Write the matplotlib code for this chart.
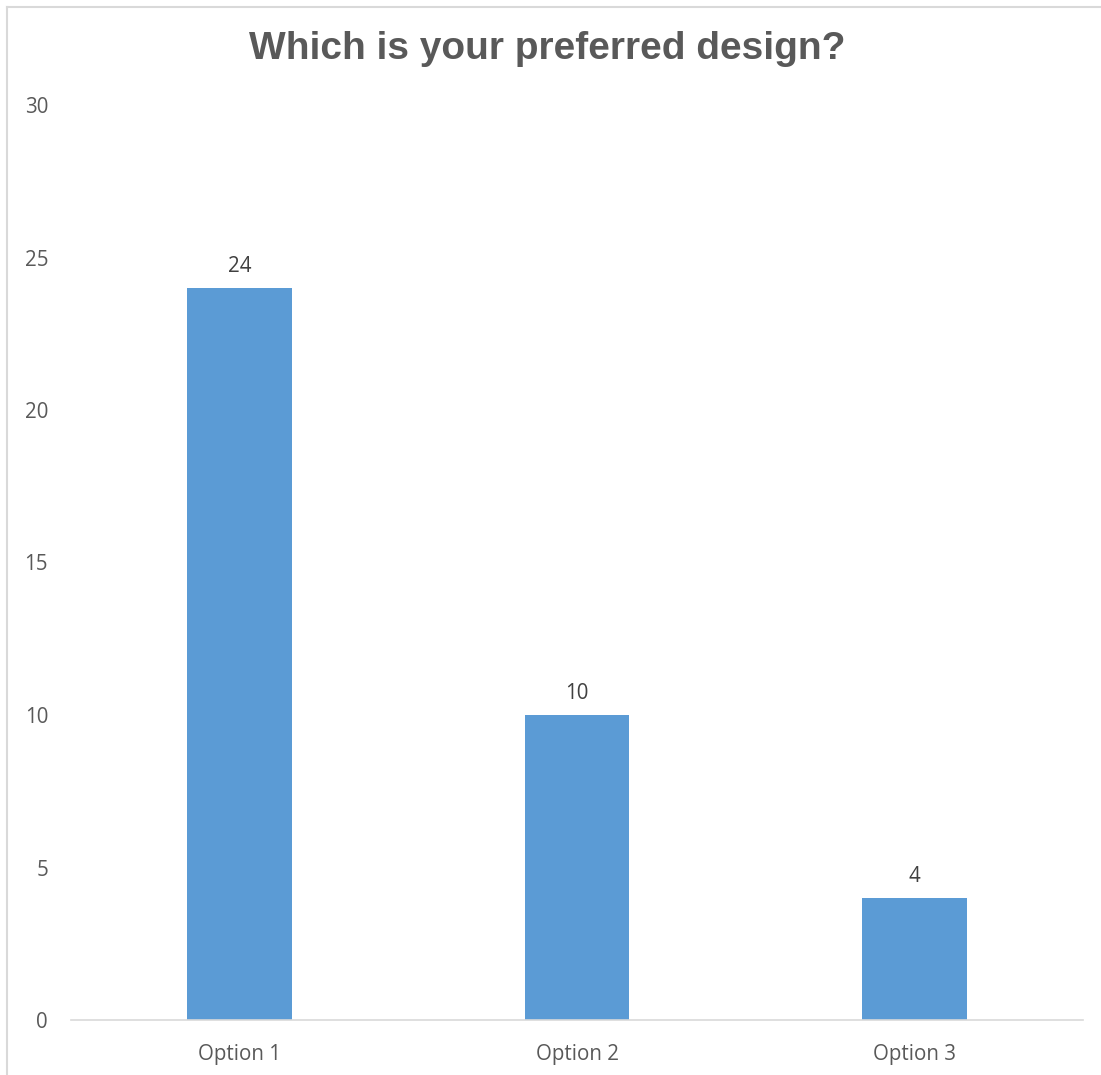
import matplotlib.pyplot as plt
from matplotlib.lines import Line2D

categories = ["Option 1", "Option 2", "Option 3"]
votes = [24, 10, 4]
y_ticks = [0, 5, 10, 15, 20, 25, 30]

W, H = 1101, 1075
fig = plt.figure(figsize=(W / 100, H / 100), dpi=100)
plt.rcParams['font.family'] = ['Open Sans', 'DejaVu Sans']

# axes box in pixels (left, bottom from the reference)
x0, x1 = 71, 1083
y_top, y_bot = 105, 1020
ax = fig.add_axes([x0 / W, 1 - y_bot / H, (x1 - x0) / W, (y_bot - y_top) / H])

bars = ax.bar(range(len(categories)), votes, width=0.31, color="#5B9BD5")
ax.set_xlim(-0.5, len(categories) - 0.5)
ax.set_ylim(0, 30)
ax.set_yticks(y_ticks)
ax.set_xticks(range(len(categories)))
ax.set_xticklabels(categories)
ax.tick_params(axis="both", length=0, colors="#595959", labelsize=14.8)
ax.tick_params(axis="y", pad=16.5)
ax.tick_params(axis="x", pad=17.5)

for s in ["top", "right", "left"]:
    ax.spines[s].set_visible(False)
ax.spines["bottom"].set_color("#D9D9D9")
ax.spines["bottom"].set_linewidth(1.2)

for b, v in zip(bars, votes):
    ax.annotate(str(v), (b.get_x() + b.get_width() / 2, v), xytext=(0, 8),
                textcoords="offset points", ha="center", va="bottom",
                fontsize=14.8, color="#404040")

fig.text(547 / W, 1 - 49 / H, "Which is your preferred design?", ha="center", va="center",
         fontsize=28, fontweight="bold", color="#595959", family="Liberation Sans")

# chart frame (only top and left edges visible)
fig.add_artist(Line2D([7 / W, 1], [1 - 7 / H, 1 - 7 / H], color="#D9D9D9", lw=1.5))
fig.add_artist(Line2D([7 / W, 7 / W], [0, 1 - 7 / H], color="#D9D9D9", lw=1.5))

fig.savefig("out.png", dpi=100)
